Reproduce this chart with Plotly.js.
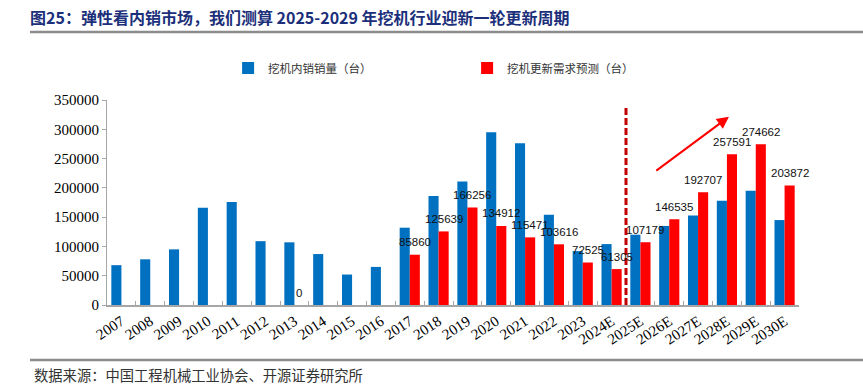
<!DOCTYPE html>
<html>
<head>
<meta charset="utf-8">
<script src="https://cdn.plot.ly/plotly-3.0.1.min.js"></script>
<style>html,body{margin:0;padding:0;background:#fff;}#chart{width:863px;height:392px;}</style>
</head>
<body>
<div id="chart"></div>
<script>
const years = ['2007','2008','2009','2010','2011','2012','2013','2014','2015','2016','2017','2018','2019','2020','2021','2022','2023','2024E','2025E','2026E','2027E','2028E','2029E','2030E'];
const domesticSales = [68000,78000,95000,166000,176000,109000,107000,87000,52000,65000,132000,186000,211000,295000,276000,154000,92000,104000,120000,135000,153000,178000,195000,145000];
const renewalDemand = [null,null,null,null,null,null,0,null,null,null,85860,125639,166256,134912,115471,103616,72525,61305,107179,146535,192707,257591,274662,203872];
const seriesNames = ['挖机内销销量（台）','挖机更新需求预测（台）'];
const titleText = '图25：弹性看内销市场，我们测算 2025-2029 年挖机行业迎新一轮更新周期';
const sourceText = '数据来源：中国工程机械工业协会、开源证券研究所';
const forecastBoundary = 17.5;
const arrowTail = [18.5, 227500];
const arrowHead = [21.07, 321400];

const cjk = '"Noto Sans CJK SC", sans-serif';
const serif = '"Liberation Serif", "DejaVu Serif", serif';

const traces = [
  {type:'bar', name:seriesNames[0], x:years, y:domesticSales, marker:{color:'#0070C0'}, hoverinfo:'x+y'},
  {type:'bar', name:seriesNames[1], x:years, y:renewalDemand, marker:{color:'#FF0000'}, hoverinfo:'x+y'}
];

// value labels above the red bars, positioned from the data (category index on the x axis)
const valueLabels = [];
years.forEach((yr, i) => {
  const v = renewalDemand[i];
  if (v === null) return;
  valueLabels.push({xref:'x', yref:'y', x:i, y:v, text:String(v), showarrow:false, xanchor:'center', yanchor:'middle',
    xshift:5, yshift:12.5, font:{family:'"Liberation Sans", Arial, sans-serif', size:11.5, color:'#111'}});
});

const layout = {
  width:863, height:392,
  margin:{l:107, r:64, t:100, b:87},
  paper_bgcolor:'#fff', plot_bgcolor:'#fff',
  barmode:'group', bargap:0.3, bargroupgap:0,
  showlegend:true,
  legend:{orientation:'h', x:0.175, xanchor:'left', y:1.156, yanchor:'middle', entrywidth:194, entrywidthmode:'pixels',
    font:{family:cjk, size:11.5, color:'#333'}, bgcolor:'rgba(0,0,0,0)', traceorder:'normal'},
  title:{text:'<b>'+titleText+'</b>', x:30/863, xanchor:'left', xref:'container', y:1-18/392, yanchor:'middle', yref:'container',
    font:{family:cjk, size:16, color:'#1b2f7a'}},
  xaxis:{type:'category', range:[-0.5, years.length-0.5], autorange:false, showline:true, linecolor:'#a6a6a6', linewidth:2, ticks:'inside', tickson:'boundaries', ticklen:4, tickcolor:'#a6a6a6',
    tickangle:-33, tickfont:{family:serif, size:15, color:'#000'}, showgrid:false, zeroline:false},
  yaxis:{range:[0,350000], autorange:false, dtick:50000, showline:true, linecolor:'#a6a6a6', linewidth:1, ticks:'outside', ticklen:4, tickcolor:'#a6a6a6',
    tickfont:{family:serif, size:15, color:'#000'}, showgrid:false, zeroline:false, tickformat:'d'},
  shapes:[
    {type:'line', xref:'paper', yref:'paper', x0:(30-107)/692, x1:(863-107)/692, y0:(305-32)/205, y1:(305-32)/205, line:{color:'#8c8c8c', width:2.5}},
    {type:'line', xref:'paper', yref:'paper', x0:(30-107)/692, x1:(863-107)/692, y0:(305-360)/205, y1:(305-360)/205, line:{color:'#8c8c8c', width:2.5}},
    {type:'line', xref:'x', yref:'y', x0:forecastBoundary, x1:forecastBoundary, y0:0, y1:341000, line:{color:'#C00000', width:3, dash:'7px,3px'}}
  ],
  annotations:[
    {xref:'x', yref:'y', axref:'x', ayref:'y', x:arrowHead[0], y:arrowHead[1], ax:arrowTail[0], ay:arrowTail[1], showarrow:true,
      arrowhead:2, arrowsize:1.2, arrowwidth:2, arrowcolor:'#FF0000', text:''},
    {xref:'paper', yref:'paper', x:(32-107)/692, y:(305-374)/205, xanchor:'left', yanchor:'middle', showarrow:false, text:sourceText,
      font:{family:cjk, size:14.3, color:'#333'}}
  ].concat(valueLabels)
};

Plotly.newPlot('chart', traces, layout, {displayModeBar:false, staticPlot:true});
</script>
</body>
</html>
